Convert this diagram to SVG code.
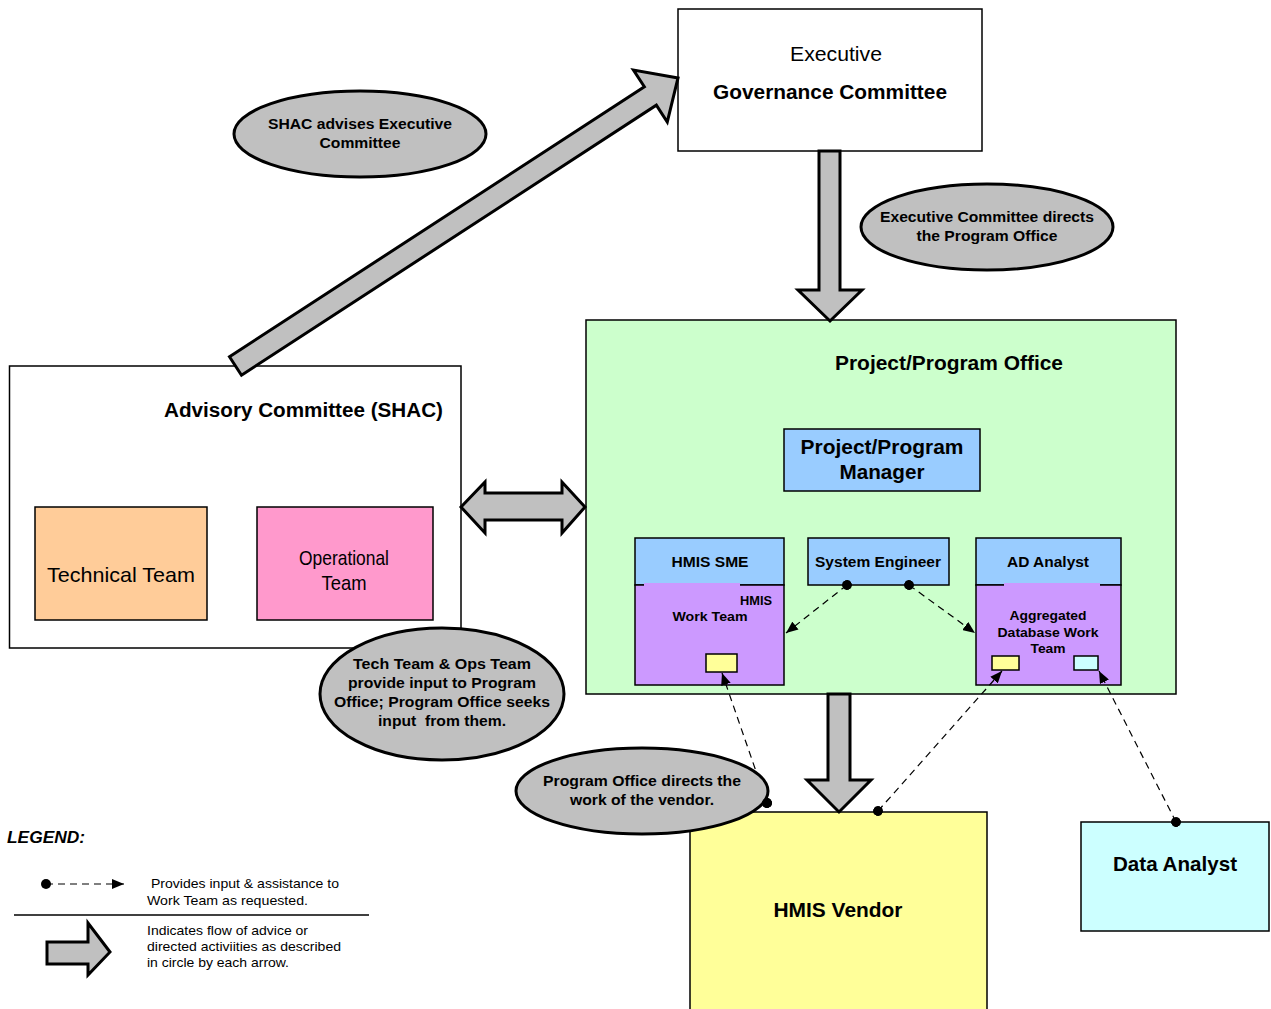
<svg xmlns="http://www.w3.org/2000/svg" width="1271" height="1009" viewBox="0 0 1271 1009">
<defs>
<style>
.box{stroke:#000;stroke-width:1.5}
.blk{fill:#c0c0c0;stroke:#000;stroke-width:3;stroke-linejoin:miter}
.ell{fill:#c0c0c0;stroke:#000;stroke-width:3}
.t{font-family:"Liberation Sans",Arial,sans-serif;fill:#000}
.b{font-weight:bold}
.c{text-anchor:middle}
.dash{stroke:#000;stroke-width:1.2;stroke-dasharray:7,5;fill:none}
</style>
<marker id="ah" viewBox="0 0 12 10" refX="12" refY="5" markerWidth="12" markerHeight="10" markerUnits="userSpaceOnUse" orient="auto">
<path d="M0,0 L12,5 L0,10 z" fill="#000"/>
</marker>
<marker id="dot" viewBox="0 0 10 10" refX="5" refY="5" markerWidth="10" markerHeight="10" markerUnits="userSpaceOnUse" orient="auto">
<circle cx="5" cy="5" r="5" fill="#000"/>
</marker>
</defs>
<rect width="1271" height="1009" fill="#fff"/>

<g id="executive">
<rect class="box" x="678" y="9" width="304" height="142" fill="#fff"/>
<text class="t c" x="836" y="61" font-size="20" textLength="92" lengthAdjust="spacingAndGlyphs">Executive</text>
<text class="t b" x="713" y="99" font-size="20" textLength="234" lengthAdjust="spacingAndGlyphs">Governance Committee</text>
</g>

<g id="advisory">
<rect class="box" x="9.5" y="366" width="451.5" height="282" fill="#fff"/>
<text class="t b" x="164" y="417" font-size="20" textLength="279" lengthAdjust="spacingAndGlyphs">Advisory Committee (SHAC)</text>
</g>
<g id="technical">
<rect class="box" x="35" y="507" width="172" height="113" fill="#ffcc99"/>
<text class="t c" x="121" y="582" font-size="21" textLength="148" lengthAdjust="spacingAndGlyphs">Technical Team</text>
</g>
<g id="operational">
<rect class="box" x="257" y="507" width="176" height="113" fill="#ff99cc"/>
<text class="t c" x="344" y="565" font-size="21" textLength="90" lengthAdjust="spacingAndGlyphs">Operational</text>
<text class="t c" x="344" y="590" font-size="21" textLength="45" lengthAdjust="spacingAndGlyphs">Team</text>
</g>

<g id="program-office">
<rect class="box" x="586" y="320" width="590" height="374" fill="#ccffcc"/>
<text class="t b" x="835" y="370" font-size="20" textLength="228" lengthAdjust="spacingAndGlyphs">Project/Program Office</text>
</g>
<g id="manager">
<rect class="box" x="784" y="429" width="196" height="62" fill="#99ccff"/>
<text class="t b c" x="882" y="454" font-size="20.5" textLength="163" lengthAdjust="spacingAndGlyphs">Project/Program</text>
<text class="t b c" x="882" y="479" font-size="20.5" textLength="85" lengthAdjust="spacingAndGlyphs">Manager</text>
</g>

<g id="hmis-sme">
<rect class="box" x="635" y="538" width="149" height="47" fill="#99ccff"/>
<rect class="box" x="635" y="585" width="149" height="100" fill="#cc99ff"/>
<rect x="644" y="583" width="96" height="4" fill="#cc99ff"/>
<text class="t b c" x="710" y="567" font-size="14.5" textLength="77" lengthAdjust="spacingAndGlyphs">HMIS SME</text>
<text class="t b" x="740" y="605" font-size="13.5" textLength="32" lengthAdjust="spacingAndGlyphs">HMIS</text>
<text class="t b c" x="710" y="621" font-size="13.5" textLength="75" lengthAdjust="spacingAndGlyphs">Work Team</text>
<rect class="box" x="706" y="654" width="31" height="18" fill="#ffff99"/>
</g>

<g id="system-engineer">
<rect class="box" x="808" y="538" width="141" height="47" fill="#99ccff"/>
<text class="t b c" x="878" y="567" font-size="14.5" textLength="126" lengthAdjust="spacingAndGlyphs">System Engineer</text>
</g>

<g id="ad-analyst">
<rect class="box" x="976" y="538" width="145" height="47" fill="#99ccff"/>
<rect class="box" x="976" y="585" width="145" height="100" fill="#cc99ff"/>
<rect x="1004" y="583" width="96" height="4" fill="#cc99ff"/>
<text class="t b c" x="1048" y="567" font-size="14.5" textLength="82" lengthAdjust="spacingAndGlyphs">AD Analyst</text>
<text class="t b c" x="1048" y="620" font-size="13.5" textLength="77" lengthAdjust="spacingAndGlyphs">Aggregated</text>
<text class="t b c" x="1048" y="637" font-size="13.5" textLength="101" lengthAdjust="spacingAndGlyphs">Database Work</text>
<text class="t b c" x="1048" y="653" font-size="13.5" textLength="35" lengthAdjust="spacingAndGlyphs">Team</text>
<rect class="box" x="992" y="656" width="27" height="14" fill="#ffff99"/>
<rect class="box" x="1074" y="656" width="24" height="14" fill="#ccffff"/>
</g>

<g id="hmis-vendor">
<rect class="box" x="690" y="812" width="297" height="200" fill="#ffff99"/>
<text class="t b c" x="838" y="917" font-size="20.5" textLength="129" lengthAdjust="spacingAndGlyphs">HMIS Vendor</text>
</g>

<g id="data-analyst">
<rect class="box" x="1081" y="822" width="188" height="109" fill="#ccffff"/>
<text class="t b c" x="1175" y="871" font-size="20.5" textLength="124" lengthAdjust="spacingAndGlyphs">Data Analyst</text>
</g>

<g id="connectors">
<polygon class="blk" transform="translate(235.5,366) rotate(-33.06)" points="0,-11 495,-11 495,-31 528,0 495,31 495,11 0,11"/>
<polygon class="blk" points="819,151 840,151 840,290 862,290 830,321 798,290 819,290"/>
<polygon class="blk" points="461,507 485,482 485,493 562,493 562,482 585,507 562,533 562,520 485,520 485,533"/>
<polygon class="blk" points="828,694 850,694 850,780 871,780 839,812 807,780 828,780"/>
<line class="dash" x1="847" y1="585" x2="786" y2="633" marker-start="url(#dot)" marker-end="url(#ah)"/>
<line class="dash" x1="909" y1="585" x2="975" y2="633" marker-start="url(#dot)" marker-end="url(#ah)"/>
<line class="dash" x1="767" y1="803" x2="722" y2="673" marker-start="url(#dot)" marker-end="url(#ah)"/>
<line class="dash" x1="878" y1="811" x2="1002" y2="671" marker-start="url(#dot)" marker-end="url(#ah)"/>
<line class="dash" x1="1176" y1="822" x2="1099" y2="671" marker-start="url(#dot)" marker-end="url(#ah)"/>
</g>

<g id="label-shac">
<ellipse class="ell" cx="360" cy="134" rx="126" ry="43"/>
<text class="t b c" x="360" y="129" font-size="14.5" textLength="184" lengthAdjust="spacingAndGlyphs">SHAC advises Executive</text>
<text class="t b c" x="360" y="148" font-size="14.5" textLength="81" lengthAdjust="spacingAndGlyphs">Committee</text>
</g>
<g id="label-exec">
<ellipse class="ell" cx="987" cy="227" rx="126" ry="43"/>
<text class="t b c" x="987" y="222" font-size="14.5" textLength="214" lengthAdjust="spacingAndGlyphs">Executive Committee directs</text>
<text class="t b c" x="987" y="241" font-size="14.5" textLength="141" lengthAdjust="spacingAndGlyphs">the Program Office</text>
</g>
<g id="label-tech">
<ellipse class="ell" cx="442" cy="694" rx="122" ry="66"/>
<text class="t b c" x="442" y="669" font-size="14.5" textLength="178" lengthAdjust="spacingAndGlyphs">Tech Team &amp; Ops Team</text>
<text class="t b c" x="442" y="688" font-size="14.5" textLength="188" lengthAdjust="spacingAndGlyphs">provide input to Program</text>
<text class="t b c" x="442" y="707" font-size="14.5" textLength="216" lengthAdjust="spacingAndGlyphs">Office; Program Office seeks</text>
<text class="t b c" x="442" y="726" font-size="14.5" textLength="128" lengthAdjust="spacingAndGlyphs" xml:space="preserve">input  from them.</text>
</g>
<g id="label-vendor">
<ellipse class="ell" cx="642" cy="791" rx="126" ry="43"/>
<text class="t b c" x="642" y="786" font-size="14.5" textLength="198" lengthAdjust="spacingAndGlyphs">Program Office directs the</text>
<text class="t b c" x="642" y="805" font-size="14.5" textLength="144" lengthAdjust="spacingAndGlyphs">work of the vendor.</text>
</g>
<circle cx="767" cy="803" r="5" fill="#000"/>

<g id="legend">
<text class="t b" x="7" y="843" font-size="16.5" font-style="italic" textLength="78" lengthAdjust="spacingAndGlyphs">LEGEND:</text>
<line class="dash" x1="46" y1="884" x2="124" y2="884" marker-start="url(#dot)" marker-end="url(#ah)"/>
<text class="t" x="151" y="888" font-size="13.5" textLength="188" lengthAdjust="spacingAndGlyphs">Provides input &amp; assistance to</text>
<text class="t" x="147" y="905" font-size="13.5" textLength="161" lengthAdjust="spacingAndGlyphs">Work Team as requested.</text>
<line x1="14" y1="915" x2="369" y2="915" stroke="#000" stroke-width="1.5"/>
<polygon class="blk" points="47,942 88,942 88,923 110,952 88,975 88,964 47,964"/>
<text class="t" x="147" y="935" font-size="13.5" textLength="161" lengthAdjust="spacingAndGlyphs">Indicates flow of advice or</text>
<text class="t" x="147" y="951" font-size="13.5" textLength="194" lengthAdjust="spacingAndGlyphs">directed activiities as described</text>
<text class="t" x="147" y="967" font-size="13.5" textLength="142" lengthAdjust="spacingAndGlyphs">in circle by each arrow.</text>
</g>
</svg>
